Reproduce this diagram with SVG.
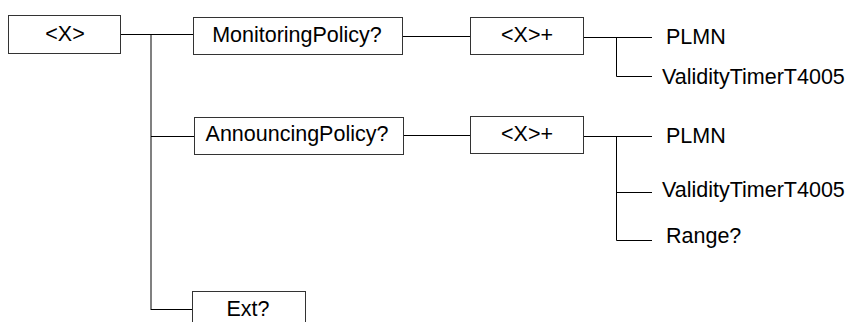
<svg xmlns="http://www.w3.org/2000/svg" width="850" height="322" viewBox="0 0 850 322">
<style>
rect.box{fill:#fff;stroke:#333;stroke-width:1}
text{font-family:"Liberation Sans",Arial,sans-serif;font-size:21.5px;fill:#000}
text.c{text-anchor:middle}
.ln{stroke:#000;stroke-width:1;fill:none}
.gr{stroke:#808080;stroke-width:2;fill:none}
</style>
<rect width="850" height="322" fill="#fff"/>
<g id="connectors">
<path class="ln" d="M120.5 34.5H193"/>
<path class="gr" d="M151 35V310"/>
<path class="ln" d="M402 36.5H470"/>
<path class="ln" d="M583 37.5H652M616.5 37V76.5H652"/>
<path class="ln" d="M151 136.5H194"/>
<path class="ln" d="M403 135.5H470"/>
<path class="ln" d="M583 136.5H652M616.5 136V240.5H652M616.5 192.5H652"/>
<path class="ln" d="M151 309.5H192"/>
</g>
<g id="root"><rect class="box" x="8.5" y="15.5" width="112" height="38"/><text class="c" x="65" y="41">&lt;X&gt;</text></g>
<g id="monitoring"><rect class="box" x="193.5" y="17.5" width="209" height="37"/><text class="c" x="297" y="42">MonitoringPolicy?</text></g>
<g id="mx"><rect class="box" x="470.5" y="17.5" width="113" height="37"/><text class="c" x="527" y="42">&lt;X&gt;+</text></g>
<g id="m-plmn"><text x="666" y="44">PLMN</text></g>
<g id="m-validity"><text x="662" y="84">ValidityTimerT4005</text></g>
<g id="announcing"><rect class="box" x="194.5" y="117.5" width="209" height="37"/><text class="c" x="297" y="141">AnnouncingPolicy?</text></g>
<g id="ax"><rect class="box" x="470.5" y="116.5" width="113" height="37"/><text class="c" x="527" y="141">&lt;X&gt;+</text></g>
<g id="a-plmn"><text x="666" y="143">PLMN</text></g>
<g id="a-validity"><text x="662" y="197">ValidityTimerT4005</text></g>
<g id="a-range"><text x="666" y="243">Range?</text></g>
<g id="ext"><rect class="box" x="192.5" y="291.5" width="113" height="40"/><text class="c" x="248" y="316">Ext?</text></g>
</svg>
